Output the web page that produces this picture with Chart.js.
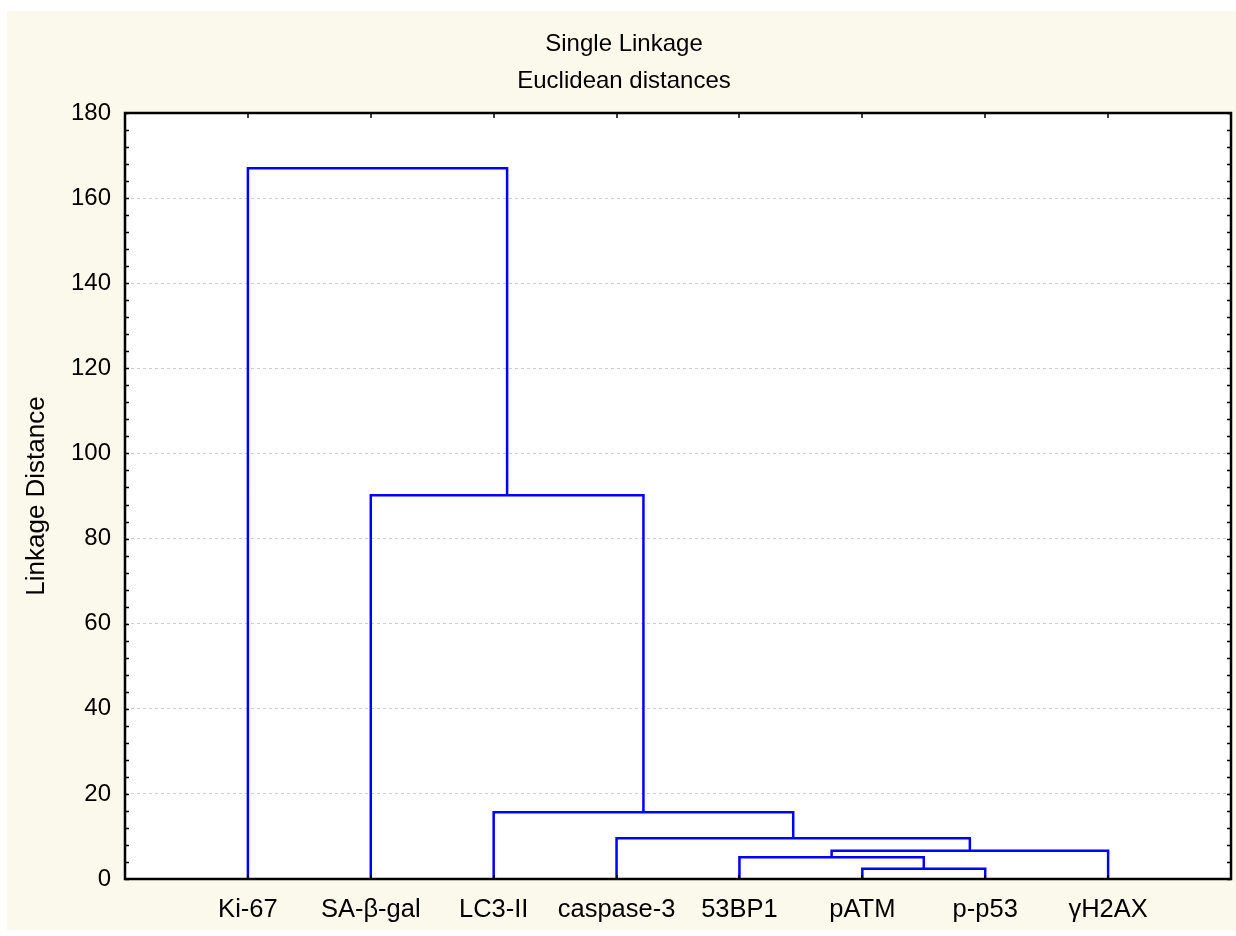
<!DOCTYPE html>
<html>
<head>
<meta charset="utf-8">
<title>Single Linkage dendrogram</title>
<script src="https://cdn.jsdelivr.net/npm/chart.js@4/dist/chart.umd.min.js"></script>
<style>
  html, body { margin: 0; padding: 0; background: #ffffff; }
  #wrap { width: 1236px; height: 936px; }
</style>
</head>
<body>
<div id="wrap"><canvas id="c" width="1236" height="936"></canvas></div>
<script>
// Leaves of the tree, in display order (left to right)
const leaves = ['Ki-67', 'SA-β-gal', 'LC3-II', 'caspase-3', '53BP1', 'pATM', 'p-p53', 'γH2AX'];

// Agglomeration steps: cluster ids 0..7 are leaves, step k creates cluster 8 + k
const mergeLeft   = [5, 4, 9, 3, 2, 1, 0];
const mergeRight  = [6, 8, 7, 10, 11, 12, 13];
const mergeHeight = [2.4, 5.1, 6.65, 9.6, 15.7, 90.2, 167.0];

// Linkage distance axis
const yMin = 0, yMax = 180, yMajorStep = 20, yMinorStep = 4;

const titleText = 'Single Linkage';
const subtitleText = 'Euclidean distances';
const yAxisTitle = 'Linkage Distance';

// Node positions along x (leaf i sits at i + 1) and heights
const nodeX = leaves.map((_, i) => i + 1);
const nodeH = leaves.map(() => 0);
mergeHeight.forEach((h, k) => {
  const a = mergeLeft[k], b = mergeRight[k];
  nodeX.push((nodeX[a] + nodeX[b]) / 2);
  nodeH.push(h);
});

// One bracket-shaped line per merge
const datasets = mergeHeight.map((h, k) => {
  const a = mergeLeft[k], b = mergeRight[k];
  return {
    data: [
      { x: nodeX[a], y: nodeH[a] },
      { x: nodeX[a], y: h },
      { x: nodeX[b], y: h },
      { x: nodeX[b], y: nodeH[b] }
    ],
    borderColor: '#0000ff',
    borderWidth: 2.5,
    borderJoinStyle: 'miter',
    borderCapStyle: 'butt',
    pointRadius: 0,
    tension: 0,
    fill: false
  };
});

const FONT = "'Liberation Sans', Arial, sans-serif";

// Panel background and white plot area
const backdrop = {
  id: 'backdrop',
  beforeDraw(chart) {
    const { ctx, chartArea: a } = chart;
    ctx.save();
    ctx.fillStyle = '#ffffff';
    ctx.fillRect(0, 0, chart.width, chart.height);
    ctx.fillStyle = '#fbf8ec';
    ctx.fillRect(7, 11, chart.width - 7, 919);
    ctx.fillStyle = '#ffffff';
    ctx.fillRect(a.left, a.top, a.right - a.left, a.bottom - a.top);
    ctx.restore();
  }
};

// Box frame with inward tick marks on all four sides
const frame = {
  id: 'frame',
  afterDatasetsDraw(chart) {
    const { ctx, chartArea: a, scales } = chart;
    const ys = scales.y, xs = scales.x;
    ctx.save();
    ctx.strokeStyle = '#000000';
    ctx.lineWidth = 1.5;
    ctx.beginPath();
    for (let v = yMin; v <= yMax; v += yMinorStep) {
      const py = Math.round(ys.getPixelForValue(v)) + 0.5;
      ctx.moveTo(a.left, py); ctx.lineTo(a.left + 4, py);
      ctx.moveTo(a.right, py); ctx.lineTo(a.right - 4, py);
    }
    nodeX.slice(0, leaves.length).forEach(v => {
      const px = Math.round(xs.getPixelForValue(v));
      ctx.moveTo(px, a.top); ctx.lineTo(px, a.top + 5);
      ctx.moveTo(px, a.bottom); ctx.lineTo(px, a.bottom - 4);
    });
    ctx.stroke();
    ctx.lineWidth = 2.5;
    ctx.strokeRect(a.left, a.top, a.right - a.left, a.bottom - a.top);
    ctx.restore();
  }
};

new Chart(document.getElementById('c'), {
  type: 'line',
  data: { datasets },
  plugins: [backdrop, frame],
  options: {
    responsive: false,
    animation: false,
    layout: { padding: { top: 0, right: 5, bottom: 0, left: 17 } },
    plugins: {
      legend: { display: false },
      tooltip: { enabled: false },
      title: {
        display: true,
        text: titleText,
        color: '#000000',
        font: { family: FONT, size: 24, weight: 'normal' },
        padding: { top: 30, bottom: 0 }
      },
      subtitle: {
        display: true,
        text: subtitleText,
        color: '#000000',
        font: { family: FONT, size: 24, weight: 'normal' },
        padding: { top: 8, bottom: 17.4 }
      }
    },
    scales: {
      x: {
        type: 'linear',
        min: 0,
        max: leaves.length + 1,
        afterFit(scale) {
          scale.height = 57;
          scale.paddingLeft = 0;
          scale.paddingRight = 0;
        },
        grid: { display: false, drawTicks: false },
        border: { display: false },
        ticks: {
          stepSize: 1,
          autoSkip: false,
          maxRotation: 0,
          padding: 16,
          color: '#000000',
          font: { family: FONT, size: 25.5 },
          callback: v => leaves[v - 1] || ''
        }
      },
      y: {
        min: yMin,
        max: yMax,
        afterFit(scale) { scale.width = 108; },
        grid: {
          drawTicks: false,
          lineWidth: 1,
          color: ctx => (ctx.tick && (ctx.tick.value === yMin || ctx.tick.value === yMax)) ? 'rgba(0,0,0,0)' : '#cccccc'
        },
        border: { display: false, dash: [3, 3] },
        ticks: {
          stepSize: yMajorStep,
          padding: 14,
          color: '#000000',
          font: { family: FONT, size: 24 }
        },
        title: {
          display: true,
          text: yAxisTitle,
          color: '#000000',
          font: { family: FONT, size: 26 },
          padding: { top: 4, bottom: 0 }
        }
      }
    }
  }
});
</script>
</body>
</html>
